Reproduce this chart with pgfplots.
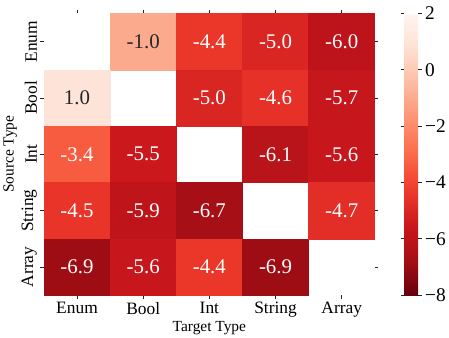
\documentclass[border=0pt]{standalone}
\usepackage{fontspec}
\setmainfont{Liberation Serif}
\usepackage{pgfplots}
\pgfplotsset{compat=1.18}

% matplotlib "Reds", reversed: -8 dark red ... 2 near white
\pgfplotsset{colormap={redsr}{
  rgb255(0cm)=(103,0,13) rgb255(1cm)=(165,15,21) rgb255(2cm)=(203,24,29)
  rgb255(3cm)=(239,59,44) rgb255(4cm)=(251,106,74) rgb255(5cm)=(252,146,114)
  rgb255(6cm)=(252,187,161) rgb255(7cm)=(254,224,210) rgb255(8cm)=(255,245,240)}}
\definecolor{darktext}{HTML}{262626}

\begin{document}
\begin{tikzpicture}
\begin{axis}[
    name=main,
    scale only axis,
    width=333pt, height=283.5pt,
    xmin=-0.5, xmax=4.5, ymin=-0.5, ymax=4.5,
    y dir=reverse,
    enlargelimits=false,
    axis line style={draw=none},
    xtick={0,1,2,3,4},
    xticklabels={Enum,Bool,Int,String,Array},
    ytick={0,1,2,3,4},
    yticklabels={Enum,Bool,Int,String,Array},
    yticklabel style={rotate=90, anchor=south},
    ticklabel style={font=\fontsize{17.5}{19}\selectfont},
    tick align=outside,
    major tick length=3.5pt,
    tick style={darktext, line width=0.6pt},
    xlabel={Target Type},
    ylabel={Source Type},
    label style={font=\fontsize{15.5}{17}\selectfont},
    xlabel style={yshift=3pt},
    ylabel style={yshift=-2pt},
    colormap name=redsr,
    point meta min=-8, point meta max=2,
    unbounded coords=jump,
    colorbar,
    colorbar style={
        at={(parent axis.north east)}, anchor=north west, xshift=21pt,
        width=14pt,
        axis line style={draw=none},
        ytick={-8,-6,-4,-2,0,2},
        yticklabels={−8,−6,−4,−2,0,2},
        yticklabel style={rotate=0, anchor=west, font=\fontsize{19.5}{20}\selectfont},
        tick align=outside,
        major tick length=3.5pt,
        tick style={darktext, line width=0.6pt},
    },
]

% heat map: rows = source type, columns = target type, diagonal empty
\addplot[matrix plot*, mesh/cols=5, point meta=explicit] coordinates {
    (0,0) [nan]  (1,0) [-1.0] (2,0) [-4.4] (3,0) [-5.0] (4,0) [-6.0]
    (0,1) [1.0]  (1,1) [nan]  (2,1) [-5.0] (3,1) [-4.6] (4,1) [-5.7]
    (0,2) [-3.4] (1,2) [-5.5] (2,2) [nan]  (3,2) [-6.1] (4,2) [-5.6]
    (0,3) [-4.5] (1,3) [-5.9] (2,3) [-6.7] (3,3) [nan]  (4,3) [-4.7]
    (0,4) [-6.9] (1,4) [-5.6] (2,4) [-4.4] (3,4) [-6.9] (4,4) [nan]
};

% annotations, light text on dark cells
\addplot[draw=none, mark=none, point meta=explicit symbolic,
    nodes near coords, nodes near coords align=center,
    every node near coord/.append style={white, anchor=center, font=\fontsize{21}{23}\selectfont}]
    coordinates {
    (2,0) [-4.4] (3,0) [-5.0] (4,0) [-6.0]
    (2,1) [-5.0] (3,1) [-4.6] (4,1) [-5.7]
    (0,2) [-3.4] (1,2) [-5.5] (3,2) [-6.1] (4,2) [-5.6]
    (0,3) [-4.5] (1,3) [-5.9] (2,3) [-6.7] (4,3) [-4.7]
    (0,4) [-6.9] (1,4) [-5.6] (2,4) [-4.4] (3,4) [-6.9]
};

% annotations, dark text on light cells
\addplot[draw=none, mark=none, point meta=explicit symbolic,
    nodes near coords, nodes near coords align=center,
    every node near coord/.append style={darktext, anchor=center, font=\fontsize{21}{23}\selectfont}]
    coordinates {
    (1,0) [-1.0] (0,1) [1.0]
};
\end{axis}
\path ([yshift=13.5pt]main.north west);
\end{tikzpicture}
\end{document}
